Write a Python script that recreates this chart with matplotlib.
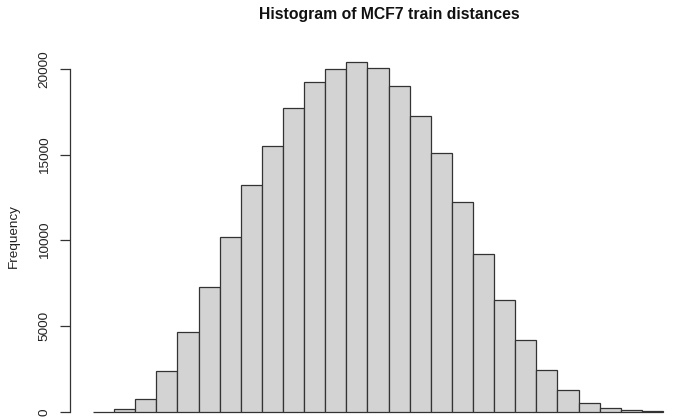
import matplotlib
matplotlib.use("Agg")
import matplotlib.pyplot as plt
import numpy as np

# counts per bin (x axis is cropped away, so bins are just indexed)
counts = [0, 150, 760, 2390, 4660, 7290, 10200, 13240, 15510, 17730, 19240, 20000,
          20410, 20060, 19010, 17260, 15100, 12240, 9210, 6530, 4200, 2450, 1280,
          525, 230, 100, 40]
y_ticks = [0, 5000, 10000, 15000, 20000]
y_labels = ["0", "5000", "10000", "15000", "20000"]

plt.rcParams['font.family'] = ['Liberation Sans', 'DejaVu Sans']

W, H = 684, 419
fig = plt.figure(figsize=(W / 100, H / 100), dpi=100)

# pixel geometry of the R plot
ax_left_px = 70
px_per_bin = 21.11
x0_px = 93          # left edge of first bin
y0_px = 412         # y of zero
px_per_unit = 343 / 20000

ax = fig.add_axes([ax_left_px / W, 0, (W - ax_left_px) / W, 1])
ax.set_xlim((ax_left_px - x0_px) / px_per_bin, (W - x0_px) / px_per_bin)
ax.set_ylim(-(H - y0_px) / px_per_unit, y0_px / px_per_unit)

edges = np.arange(len(counts))
ax.bar(edges, counts, width=1, align='edge', color='#d3d3d3',
       edgecolor='#333333', linewidth=0.9)

for s in ['top', 'right', 'bottom']:
    ax.spines[s].set_visible(False)
ax.spines['left'].set_bounds(0, 20000)
ax.spines['left'].set_color('#333333')
ax.spines['left'].set_linewidth(0.9)
ax.set_xticks([])
ax.set_yticks(y_ticks)
ax.set_yticklabels(y_labels, rotation=90, va='center', fontsize=9.7, color='#222222')
ax.tick_params(axis='y', length=7, width=0.9, color='#333333', pad=7)
ax.patch.set_alpha(0)

fig.text(14 / W, 1 - 236 / H, "Frequency", rotation=90, ha='center', va='center',
         fontsize=9.7, color='#222222')
fig.text(389 / W, 1 - 15 / H, "Histogram of MCF7 train distances", ha='center',
         va='center', fontsize=11.3, fontweight='bold', color='#111111')

fig.savefig("out.png", dpi=100)
